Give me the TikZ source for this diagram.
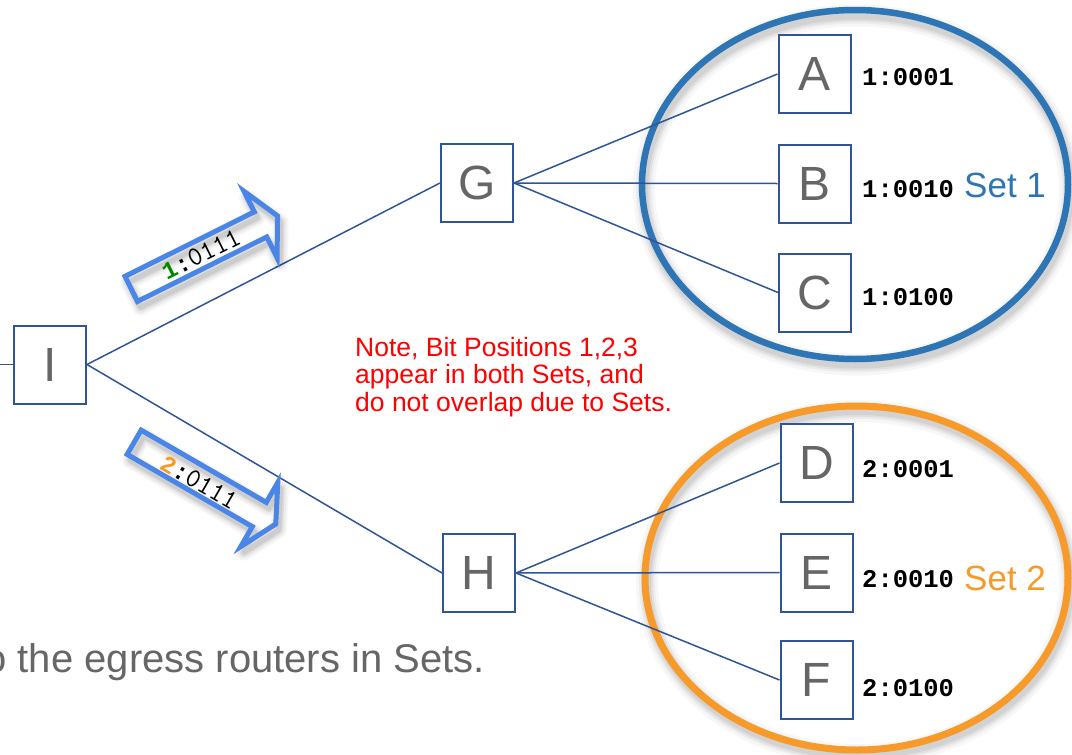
\documentclass[tikz,border=0pt]{standalone}
\usepackage{fontspec}
\setmainfont{Liberation Sans}
\newfontfamily\bitfont{Liberation Mono}

\definecolor{linkblue}{RGB}{47,85,151}
\definecolor{setblue}{RGB}{46,117,182}
\definecolor{setorange}{RGB}{247,154,42}
\definecolor{arrowblue}{RGB}{74,134,232}
\definecolor{lettergray}{RGB}{102,102,102}
\definecolor{bitgreen}{RGB}{0,135,0}

\tikzset{
  router/.style={draw=linkblue, line width=2pt, fill=white,
    minimum width=72pt, minimum height=78pt, inner sep=0pt,
    text=lettergray, font=\fontsize{48}{48}\selectfont},
  link/.style={draw=linkblue, line width=1.5pt},
  bitlabel/.style={anchor=base west, inner sep=0pt,
    font=\bitfont\bfseries\fontsize{25.5}{26}\selectfont},
  setname/.style={anchor=base west, inner sep=0pt,
    font=\fontsize{35}{36}\selectfont},
  noteline/.style={anchor=base west, inner sep=0pt, text=red,
    font=\fontsize{26.5}{28}\selectfont},
  arrowtext/.style={inner sep=0pt, font=\ttfamily\fontsize{27}{27}\selectfont},
  pics/arrowframe/.style={code={
    \draw[arrowblue, line width=5pt, line join=miter]
      (2.5,-14) -- (147,-14) -- (147,-37) -- (166,0) -- (147,37)
      -- (147,14) -- (2.5,14) -- cycle;}},
  pics/arrowshadow/.style={code={
    \foreach \w/\o in {16/0.035,12/0.045,8/0.06,5/0.07}{
      \draw[black, opacity=\o, line width=\w pt, line join=round]
        (2.5,-14) -- (147,-14) -- (147,-37) -- (166,0) -- (147,37)
        -- (147,14) -- (2.5,14) -- cycle;}}},
}
% set number and colon of a packet's bit string
\newcommand\setnum[2]{{\bitfont\bfseries\fontsize{24}{24}\selectfont\textcolor{#1}{#2}:}}

\begin{document}
\begin{tikzpicture}[x=1pt,y=-1pt]
\useasboundingbox (0,0) rectangle (1072,755);
\fill[white] (0,0) rectangle (1072,755);
\begin{scope}
\clip (0,0) rectangle (1072,755);

% soft shadows under the two set rings
\foreach \w/\o in {22/0.03,16/0.04,12/0.05,8/0.06}{
  \draw[black, opacity=\o, line width=\w pt]
    (857,190) ellipse [x radius=213pt, y radius=174.5pt];
  \draw[black, opacity=\o, line width=\w pt]
    (858.5,583) ellipse [x radius=211.5pt, y radius=172pt];
}
% the set rings
\draw[setblue, line width=6.5pt] (855,184.5) ellipse [x radius=213pt, y radius=174.5pt];
\draw[setorange, line width=7pt] (856.5,578) ellipse [x radius=211.5pt, y radius=172pt];

% routers
\node[router] (I) at (50,364.5) {I};
\node[router] (G) at (477,183) {G};
\node[router] (H) at (479,573) {H};
\node[router] (A) at (814.5,74) {A};
\node[router] (B) at (814.5,183.5) {B};
\node[router] (C) at (815,292.5) {C};
\node[router] (D) at (816.5,463) {D};
\node[router] (E) at (816.5,572.5) {E};
\node[router] (F) at (816.5,680) {F};
\coordinate (entry) at (0,364.5);

% links
\draw[link] (entry) -- (I.west);
\draw[link] (I.east) -- (G.west);
\draw[link] (I.east) -- (H.west);
\draw[link] (G.east) -- (A.west);
\draw[link] (G.east) -- (B.west);
\draw[link] (G.east) -- (C.west);
\draw[link] (H.east) -- (D.west);
\draw[link] (H.east) -- (E.west);
\draw[link] (H.east) -- (F.west);

% bit strings of the egress routers
\node[bitlabel] (lA) at (862,85) {1:0001};
\node[bitlabel] (lB) at (862,197) {1:0010};
\node[bitlabel] (lC) at (862,305) {1:0100};
\node[bitlabel] (lD) at (862,477) {2:0001};
\node[bitlabel] (lE) at (862,587) {2:0010};
\node[bitlabel] (lF) at (862,696) {2:0100};
\node[setname, text=setblue] (s1) at (964,197) {Set 1};
\node[setname, text=setorange] (s2) at (964,590) {Set 2};

% packets sent towards G and H
\pic[rotate=26.5] at (132,296) {arrowshadow};
\pic[rotate=26.5] at (129,290) {arrowframe};
\node[arrowtext, rotate=26.5] (p1) at (201,254.5)
  {\setnum{bitgreen}{1}0111};
\pic[rotate=-30] at (135,447) {arrowshadow};
\pic[rotate=-30] at (132,441) {arrowframe};
\node[arrowtext, rotate=-30] (p2) at (199,482)
  {\setnum{setorange}{2}0111};

% note
\node[noteline] (n1) at (355,356) {Note, Bit Positions 1,2,3};
\node[noteline] (n2) at (355,383.5) {appear in both Sets, and};
\node[noteline] (n3) at (355,411.5) {do not overlap due to Sets.};

% caption
\node[anchor=base east, inner sep=0pt, text=lettergray,
  font=\fontsize{40}{40}\selectfont] (cap) at (485,672)
  {to the egress routers in Sets.};
\end{scope}
\end{tikzpicture}
\end{document}
